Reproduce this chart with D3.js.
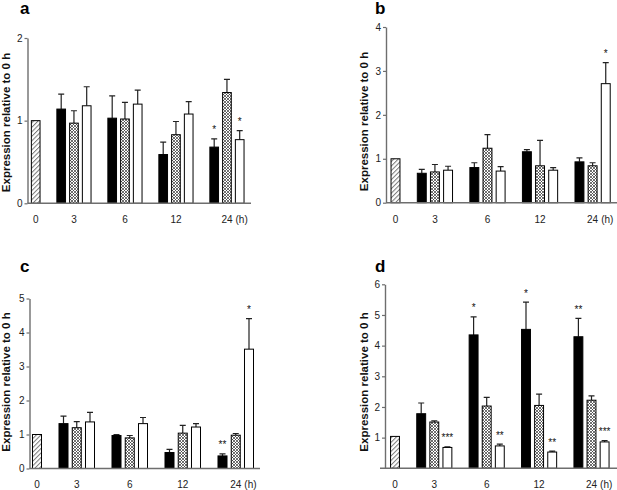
<!DOCTYPE html>
<html>
<head>
<meta charset="utf-8">
<script src="https://cdn.jsdelivr.net/npm/d3@7"></script>
<style>
  body { margin: 0; background: #fff; }
  svg { display: block; font-family: Arial, "Liberation Sans", sans-serif; }
</style>
</head>
<body>
<svg id="fig" width="617" height="490"></svg>
<script>
const times = ['0', '3', '6', '12', '24'];
const yTitle = 'Expression relative to 0 h';

// panel a
const aControl = 1.0;
const aBlack = [1.14, 1.03, 0.59, 0.68];
const aBlackErr = [0.18, 0.27, 0.15, 0.10];
const aBlackSig = ['', '', '', '*'];
const aCross = [0.97, 1.02, 0.83, 1.34];
const aCrossErr = [0.15, 0.20, 0.16, 0.16];
const aCrossSig = ['', '', '', ''];
const aWhite = [1.18, 1.20, 1.08, 0.77];
const aWhiteErr = [0.23, 0.17, 0.15, 0.11];
const aWhiteSig = ['', '', '', '*'];
const aTicks = [0, 1, 2];

// panel b
const bControl = 1.0;
const bBlack = [0.67, 0.80, 1.16, 0.93];
const bBlackErr = [0.09, 0.11, 0.05, 0.09];
const bBlackSig = ['', '', '', ''];
const bCross = [0.70, 1.24, 0.84, 0.84];
const bCrossErr = [0.17, 0.31, 0.58, 0.07];
const bCrossSig = ['', '', '', ''];
const bWhite = [0.74, 0.72, 0.74, 2.71];
const bWhiteErr = [0.09, 0.10, 0.06, 0.48];
const bWhiteSig = ['', '', '', '*'];
const bTicks = [0, 1, 2, 3, 4];

// panel c
const cControl = 1.0;
const cBlack = [1.32, 0.97, 0.47, 0.37];
const cBlackErr = [0.22, 0.03, 0.09, 0.06];
const cBlackSig = ['', '', '', '**'];
const cCross = [1.20, 0.90, 1.04, 0.98];
const cCrossErr = [0.18, 0.07, 0.23, 0.05];
const cCrossSig = ['', '', '', ''];
const cWhite = [1.37, 1.32, 1.22, 3.51];
const cWhiteErr = [0.28, 0.18, 0.10, 0.90];
const cWhiteSig = ['', '', '', '*'];
const cTicks = [0, 1, 2, 3, 4, 5];

// panel d
const dControl = 1.04;
const dBlack = [1.78, 4.35, 4.53, 4.29];
const dBlackErr = [0.35, 0.59, 0.89, 0.60];
const dBlackSig = ['', '*', '*', '**'];
const dCross = [1.51, 2.03, 2.05, 2.22];
const dCrossErr = [0.04, 0.28, 0.37, 0.14];
const dCrossSig = ['', '', '', ''];
const dWhite = [0.68, 0.73, 0.53, 0.86];
const dWhiteErr = [0.02, 0.06, 0.03, 0.04];
const dWhiteSig = ['***', '**', '**', '***'];
const dTicks = [1, 2, 3, 4, 5, 6];

(function() {
  const svg = d3.select('#fig');
  const defs = svg.append('defs');

  // diagonal hatch for the 0 h bar
  const hatch = defs.append('pattern')
    .attr('id', 'hatch')
    .attr('patternUnits', 'userSpaceOnUse')
    .attr('width', 3.2).attr('height', 3.2)
    .attr('patternTransform', 'rotate(45)');
  hatch.append('rect').attr('width', 3.2).attr('height', 3.2).attr('fill', '#fff');
  hatch.append('line')
    .attr('x1', 0.5).attr('y1', 0).attr('x2', 0.5).attr('y2', 3.2)
    .attr('stroke', '#777').attr('stroke-width', 1);

  // fine cross hatch
  const cross = defs.append('pattern')
    .attr('id', 'cross')
    .attr('patternUnits', 'userSpaceOnUse')
    .attr('width', 3).attr('height', 3);
  cross.append('rect').attr('width', 3).attr('height', 3).attr('fill', '#fff');
  cross.append('path')
    .attr('d', 'M0,0L3,3M3,0L0,3')
    .attr('stroke', '#333').attr('stroke-width', 0.7);

  const fills = ['#000', 'url(#cross)', '#fff'];

  const panels = [
    {letter: 'a', control: aControl, ticks: aTicks, yMax: 2,
     series: [[aBlack, aBlackErr, aBlackSig], [aCross, aCrossErr, aCrossSig], [aWhite, aWhiteErr, aWhiteSig]],
     lay: {axisX: 27.5, y0: 203.3, yTop: 38, slot0: 35.7, step: 12.75, baseStart: 27.5, baseEnd: 251,
           letterX: 20, letterY: 14, titleX: 9.5, titleY: 122.5, labelY: 222.5}},
    {letter: 'b', control: bControl, ticks: bTicks, yMax: 4,
     series: [[bBlack, bBlackErr, bBlackSig], [bCross, bCrossErr, bCrossSig], [bWhite, bWhiteErr, bWhiteSig]],
     lay: {axisX: 386, y0: 202.7, yTop: 27, slot0: 395.5, step: 13.14, baseStart: 386, baseEnd: 617,
           letterX: 375, letterY: 14, titleX: 368, titleY: 121.5, labelY: 223}},
    {letter: 'c', control: cControl, ticks: cTicks, yMax: 5,
     series: [[cBlack, cBlackErr, cBlackSig], [cCross, cCrossErr, cCrossSig], [cWhite, cWhiteErr, cWhiteSig]],
     lay: {axisX: 29.5, y0: 468.5, yTop: 298.5, slot0: 37, step: 13.25, baseStart: 29.5, baseEnd: 260,
           letterX: 20, letterY: 272, titleX: 9.5, titleY: 382, labelY: 488}},
    {letter: 'd', control: dControl, ticks: dTicks, yMax: 6,
     series: [[dBlack, dBlackErr, dBlackSig], [dCross, dCrossErr, dCrossSig], [dWhite, dWhiteErr, dWhiteSig]],
     lay: {axisX: 385, y0: 468.3, yTop: 284.3, slot0: 395, step: 13.1, baseStart: 380, baseEnd: 617,
           letterX: 375, letterY: 272, titleX: 368, titleY: 382, labelY: 488}}
  ];

  panels.forEach(p => {
    const L = p.lay;
    const g = svg.append('g').attr('class', 'panel-' + p.letter);

    const slotToX = d3.scaleBand()
      .domain(d3.range(17))
      .range([L.slot0 - L.step / 2, L.slot0 + 16.5 * L.step])
      .paddingInner(0.32)
      .paddingOuter(0.16);
    const valueToY = d3.scaleLinear()
      .domain([0, p.yMax])
      .range([L.y0, L.yTop]);

    // bars: control in slot 0, groups at 2..4, 6..8, 10..12, 14..16
    const bars = [{slot: 0, v: p.control, err: 0, sig: '', fill: 'url(#hatch)'}];
    p.series.forEach((s, si) => {
      s[0].forEach((v, ti) => {
        bars.push({slot: 2 + ti * 4 + si, v: v, err: s[1][ti], sig: s[2][ti], fill: fills[si]});
      });
    });

    // error bars (upper only)
    const errG = g.append('g');
    bars.filter(d => d.err > 0).forEach(d => {
      const cx = slotToX(d.slot) + slotToX.bandwidth() / 2;
      const yt = valueToY(d.v + d.err);
      errG.append('path')
        .attr('d', 'M' + cx + ',' + valueToY(d.v) + 'V' + yt + 'M' + (cx - 3) + ',' + yt + 'H' + (cx + 3))
        .attr('fill', 'none')
        .attr('stroke', '#222')
        .attr('stroke-width', 1.2);
    });

    g.append('g')
      .selectAll('rect')
      .data(bars)
      .enter()
      .append('rect')
      .attr('x', d => slotToX(d.slot))
      .attr('y', d => valueToY(d.v))
      .attr('width', slotToX.bandwidth())
      .attr('height', d => valueToY(0) - valueToY(d.v))
      .attr('fill', d => d.fill)
      .attr('stroke', '#000')
      .attr('stroke-width', 1);

    // significance stars
    g.append('g')
      .selectAll('text')
      .data(bars.filter(d => d.sig))
      .enter()
      .append('text')
      .attr('x', d => slotToX(d.slot) + slotToX.bandwidth() / 2)
      .attr('y', d => valueToY(d.v + d.err) - 5.5)
      .attr('text-anchor', 'middle')
      .attr('font-size', 10)
      .attr('fill', '#111')
      .text(d => d.sig);

    // y axis
    const yAxis = d3.axisLeft(valueToY)
      .tickValues(p.ticks)
      .tickFormat(d3.format('d'))
      .tickSize(3)
      .tickSizeOuter(0)
      .tickPadding(2);
    const ax = g.append('g')
      .attr('transform', 'translate(' + L.axisX + ',0)')
      .call(yAxis);
    ax.select('.domain').attr('stroke', '#6e6e6e').attr('stroke-width', 1.4);
    ax.selectAll('.tick line').attr('stroke', '#6e6e6e').attr('stroke-width', 1.2);
    ax.selectAll('.tick text')
      .attr('font-size', 10)
      .attr('font-family', 'Arial, "Liberation Sans", sans-serif')
      .attr('fill', '#222');

    // baseline
    g.append('line')
      .attr('x1', L.baseStart).attr('x2', L.baseEnd)
      .attr('y1', valueToY(0)).attr('y2', valueToY(0))
      .attr('stroke', '#6e6e6e')
      .attr('stroke-width', 1.4);

    // time labels
    const labels = g.append('g')
      .attr('font-size', 10)
      .attr('fill', '#222');
    times.forEach((t, i) => {
      const slot = i === 0 ? 0 : 3 + (i - 1) * 4;
      const cx = slotToX(slot) + slotToX.bandwidth() / 2;
      const txt = labels.append('text')
        .attr('x', cx)
        .attr('y', L.labelY)
        .attr('text-anchor', 'middle')
        .text(t);
      if (i === times.length - 1) {
        const w = txt.node().getComputedTextLength();
        labels.append('text')
          .attr('x', cx + w / 2 + 3)
          .attr('y', L.labelY)
          .text('(h)');
      }
    });

    // y title
    g.append('text')
      .attr('transform', 'translate(' + L.titleX + ',' + L.titleY + ') rotate(-90)')
      .attr('text-anchor', 'middle')
      .attr('font-size', 11.5)
      .attr('font-weight', 'bold')
      .attr('fill', '#111')
      .text(yTitle);

    // panel letter
    g.append('text')
      .attr('x', L.letterX)
      .attr('y', L.letterY)
      .attr('font-size', 17)
      .attr('font-weight', 'bold')
      .attr('fill', '#000')
      .text(p.letter);
  });
})();
</script>
</body>
</html>
